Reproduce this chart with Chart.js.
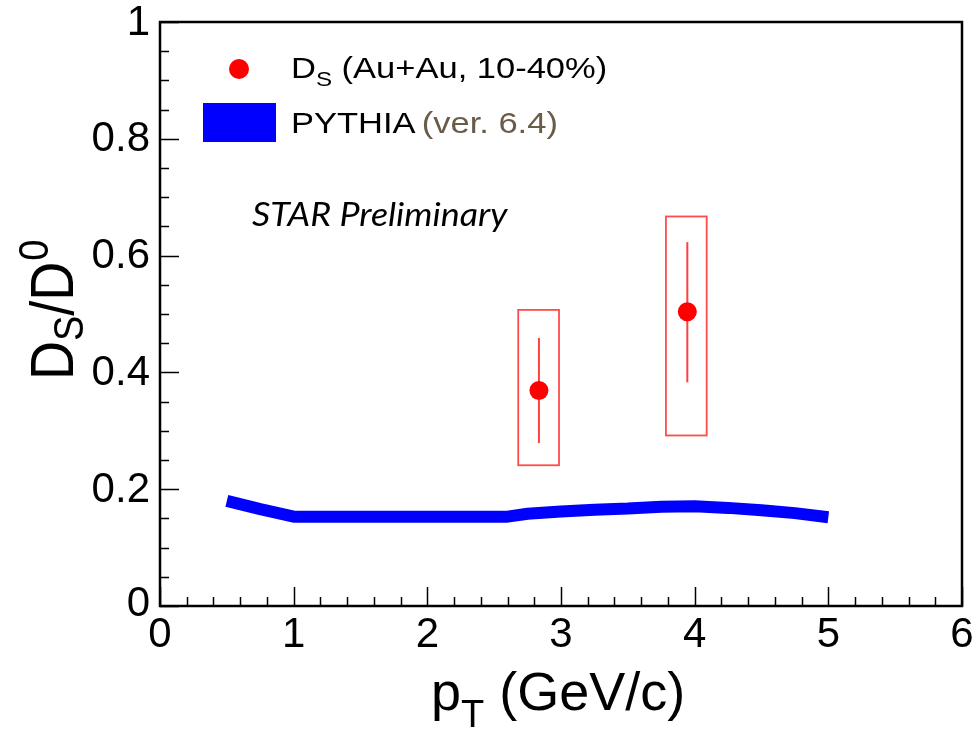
<!DOCTYPE html>
<html><head><meta charset="utf-8">
<script src="https://cdn.jsdelivr.net/npm/chart.js@4.4.1/dist/chart.umd.min.js"></script>
<style>html,body{margin:0;padding:0;background:#fff;}canvas{display:block;}</style>
</head><body>
<canvas id="c" width="978" height="740"></canvas>
<script>
// ---- data ----
const pythiaX = [0.5, 0.75, 1.0, 1.5, 2.0, 2.5, 2.6, 2.75, 3.0, 3.25, 3.5, 3.75, 4.0, 4.25, 4.5, 4.75, 5.0];
const pythiaY = [0.180, 0.166, 0.153, 0.153, 0.153, 0.153, 0.153, 0.158, 0.162, 0.165, 0.167, 0.170, 0.171, 0.168, 0.164, 0.159, 0.152];
const dsX = [2.835, 3.945];
const dsY = [0.369, 0.504];
const dsStatLow = [0.279, 0.383];
const dsStatHigh = [0.459, 0.623];
const dsSysXLow = [2.68, 3.785];
const dsSysXHigh = [2.985, 4.09];
const dsSysLow = [0.241, 0.292];
const dsSysHigh = [0.507, 0.667];
const xTicks = [0, 1, 2, 3, 4, 5, 6];
const xTickLabels = ['0', '1', '2', '3', '4', '5', '6'];
const yTicks = [0, 0.2, 0.4, 0.6, 0.8, 1];
const yTickLabels = ['0', '0.2', '0.4', '0.6', '0.8', '1'];
const legendDs = ['D', 'S', ' (Au+Au, 10-40%)'];
const legendPythia = ['PYTHIA', ' (ver. 6.4)'];
const annotation = 'STAR Preliminary';

const overlay = {
  id: 'overlay',
  beforeDatasetsDraw(chart) {
    const {ctx, scales: {x, y}} = chart;
    ctx.save();
    ctx.strokeStyle = 'rgba(255,30,30,0.8)';
    ctx.lineWidth = 1.8;
    for (let i = 0; i < dsX.length; i++) {
      const x0 = x.getPixelForValue(dsSysXLow[i]), x1 = x.getPixelForValue(dsSysXHigh[i]);
      const y0 = y.getPixelForValue(dsSysHigh[i]), y1 = y.getPixelForValue(dsSysLow[i]);
      ctx.strokeRect(x0, y0, x1 - x0, y1 - y0);
    }
    ctx.strokeStyle = 'rgba(255,30,30,0.85)';
    ctx.lineWidth = 2;
    for (let i = 0; i < dsX.length; i++) {
      const px = x.getPixelForValue(dsX[i]);
      ctx.beginPath();
      ctx.moveTo(px, y.getPixelForValue(dsStatHigh[i]));
      ctx.lineTo(px, y.getPixelForValue(dsStatLow[i]));
      ctx.stroke();
    }
    ctx.restore();
  },
  afterDraw(chart) {
    const {ctx, chartArea: a, scales: {x, y}} = chart;
    ctx.save();
    // ticks
    ctx.strokeStyle = '#000';
    ctx.lineWidth = 1.5;
    ctx.beginPath();
    for (let v = 0; v <= 6.0001; v += 0.2) {
      const px = Math.round(x.getPixelForValue(v)) + 0.5;
      const major = Math.abs(v - Math.round(v)) < 1e-6;
      const len = major ? 19 : 9;
      ctx.moveTo(px, a.bottom); ctx.lineTo(px, a.bottom - len);
    }
    for (let v = 0; v <= 1.0001; v += 0.05) {
      const py = Math.round(y.getPixelForValue(v)) + 0.5;
      const major = Math.abs(v * 5 - Math.round(v * 5)) < 1e-6;
      const len = major ? 19 : 9;
      ctx.moveTo(a.left, py); ctx.lineTo(a.left + len, py);
    }
    ctx.stroke();
    // frame
    ctx.lineWidth = 2.5;
    ctx.strokeRect(a.left, a.top, a.right - a.left, a.bottom - a.top);

    // tick labels
    ctx.fillStyle = '#000';
    ctx.font = '42px "Liberation Sans", Arial, sans-serif';
    ctx.textAlign = 'center';
    ctx.textBaseline = 'alphabetic';
    xTicks.forEach((v, i) => ctx.fillText(xTickLabels[i], x.getPixelForValue(v), 647));
    ctx.textAlign = 'right';
    ctx.textBaseline = 'middle';
    yTicks.forEach((v, i) => {
      let py = y.getPixelForValue(v);
      if (v === 0) py -= 3;
      ctx.fillText(yTickLabels[i], 150, py + 1);
    });

    // x title
    ctx.textAlign = 'left';
    ctx.textBaseline = 'alphabetic';
    const big = 54, small = 38;
    let cx = 431;
    ctx.font = big + 'px "Liberation Sans", Arial, sans-serif';
    ctx.fillText('p', cx, 710); cx += ctx.measureText('p').width;
    ctx.font = small + 'px "Liberation Sans", Arial, sans-serif';
    ctx.fillText('T', cx, 727); cx += ctx.measureText('T').width;
    ctx.font = big + 'px "Liberation Sans", Arial, sans-serif';
    ctx.fillText(' (GeV/c)', cx, 710);

    // y title
    ctx.save();
    ctx.translate(73, 380);
    ctx.rotate(-Math.PI / 2);
    ctx.scale(1, 1.12);
    let ty = 0;
    ctx.font = big + 'px "Liberation Sans", Arial, sans-serif';
    ctx.fillText('D', ty, 0); ty += ctx.measureText('D').width;
    ctx.font = small + 'px "Liberation Sans", Arial, sans-serif';
    ctx.fillText('S', ty, 9); ty += ctx.measureText('S').width;
    ctx.font = big + 'px "Liberation Sans", Arial, sans-serif';
    ctx.fillText('/D', ty, 0); ty += ctx.measureText('/D').width;
    ctx.font = small + 'px "Liberation Sans", Arial, sans-serif';
    ctx.fillText('0', ty + 1, -22);
    ctx.restore();

    // legend
    ctx.fillStyle = '#ff0000';
    ctx.beginPath(); ctx.arc(239, 69, 10, 0, Math.PI * 2); ctx.fill();
    ctx.fillStyle = '#0000ff';
    ctx.fillRect(203, 103, 73, 39);
    ctx.save();
    ctx.translate(291, 0);
    ctx.scale(1.15, 1);
    ctx.fillStyle = '#000';
    let lx = 0;
    ctx.font = '30px "Liberation Sans", Arial, sans-serif';
    ctx.fillText(legendDs[0], lx, 78); lx += ctx.measureText(legendDs[0]).width;
    ctx.font = '21px "Liberation Sans", Arial, sans-serif';
    ctx.fillText(legendDs[1], lx, 86); lx += ctx.measureText(legendDs[1]).width;
    ctx.font = '30px "Liberation Sans", Arial, sans-serif';
    ctx.fillText(legendDs[2], lx, 78);
    lx = 0;
    ctx.fillText(legendPythia[0], lx, 133); lx += ctx.measureText(legendPythia[0]).width;
    ctx.fillStyle = '#6a5a48';
    ctx.fillText(legendPythia[1], lx - 3, 133);
    ctx.restore();

    // annotation
    ctx.save();
    ctx.translate(252, 226);
    ctx.scale(1.12, 1);
    ctx.fillStyle = '#000';
    ctx.font = 'italic 32px Lato, "Open Sans", sans-serif';
    ctx.fillText(annotation, 0, 0);
    ctx.restore();
    ctx.restore();
  }
};

new Chart(document.getElementById('c'), {
  type: 'scatter',
  data: {
    datasets: [
      {
        label: 'PYTHIA (ver. 6.4)',
        type: 'line',
        data: pythiaX.map((v, i) => ({x: v, y: pythiaY[i]})),
        borderColor: '#0000ff',
        borderWidth: 12,
        borderCapStyle: 'butt',
        borderJoinStyle: 'bevel',
        pointRadius: 0,
        tension: 0,
        fill: false
      },
      {
        label: 'Ds (Au+Au, 10-40%)',
        data: dsX.map((v, i) => ({x: v, y: dsY[i]})),
        backgroundColor: '#ff0000',
        borderWidth: 0,
        pointRadius: 9.5
      }
    ]
  },
  options: {
    responsive: false,
    animation: false,
    devicePixelRatio: 1,
    layout: {padding: {left: 160, right: 16, top: 22, bottom: 134}},
    plugins: {legend: {display: false}, tooltip: {enabled: false}},
    scales: {
      x: {type: 'linear', min: 0, max: 6, display: false},
      y: {type: 'linear', min: 0, max: 1, display: false}
    }
  },
  plugins: [overlay]
});
</script>
</body></html>
